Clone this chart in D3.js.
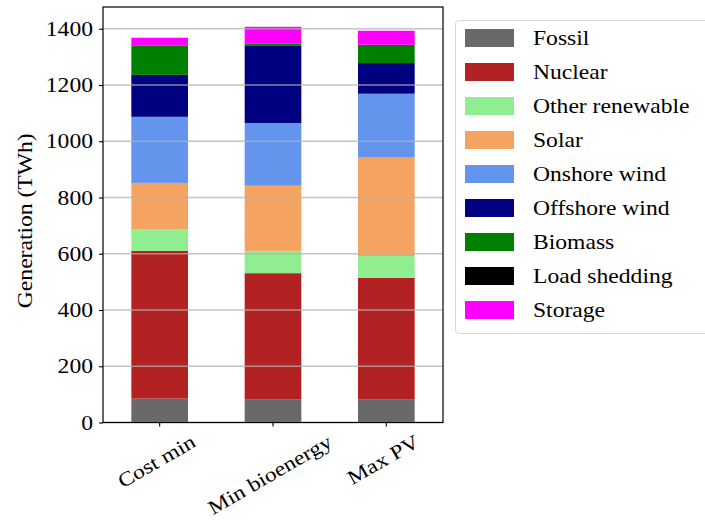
<!DOCTYPE html>
<html>
<head>
<meta charset="utf-8">
<script src="https://cdn.jsdelivr.net/npm/d3@7"></script>
<style>
  html, body { margin: 0; padding: 0; background: #fff; }
  svg text { font-family: "Liberation Serif", "DejaVu Serif", serif; fill: #000; }
</style>
</head>
<body>
<svg id="chart" width="705" height="524"></svg>
<script>
// Scenarios on the x axis
const scenarios = ["Cost min", "Min bioenergy", "Max PV"];

// Generation technologies, bottom to top of each stack
const technologies = ["Fossil", "Nuclear", "Other renewable", "Solar", "Onshore wind",
                      "Offshore wind", "Biomass", "Load shedding", "Storage"];
const colors = ["#696969", "#b22222", "#90ee90", "#f4a460", "#6495ed",
                "#000080", "#008000", "#000000", "#ff00ff"];

// Generation per technology (TWh), one value per scenario
const fossil        = [85, 83, 83];
const nuclear       = [525, 448, 431];
const otherRenew    = [78, 79, 78];
const solar         = [164, 232, 350];
const onshoreWind   = [235, 223, 227];
const offshoreWind  = [149, 276, 109];
const biomass       = [105, 7, 65];
const loadShedding  = [0, 0, 0];
const storage       = [27, 59, 50];

const yTicks = [0, 200, 400, 600, 800, 1000, 1200, 1400];

const seriesValues = [fossil, nuclear, otherRenew, solar, onshoreWind,
                      offshoreWind, biomass, loadShedding, storage];

const rows = scenarios.map((s, i) => {
  const r = { scenario: s };
  technologies.forEach((t, k) => { r[t] = seriesValues[k][i]; });
  return r;
});

const svg = d3.select("#chart");
const plot = { left: 103, right: 443, top: 7, bottom: 422.5 };
const FS = 20;        // font size
const WIDEN = 1.18;   // horizontal stretch of the serif face

// Places a text at (tx, ty), optionally rotated, with a horizontal widening.
function label(parent, str, tx, ty, anchor, rotate) {
  const g = parent.append("g")
    .attr("transform", `translate(${tx},${ty})` + (rotate ? ` rotate(${rotate})` : ""));
  return g.append("text")
    .attr("transform", `scale(${WIDEN},1)`)
    .attr("text-anchor", anchor)
    .style("font-size", FS + "px")
    .text(str);
}

const x = d3.scaleBand().domain(scenarios)
  .range([plot.left, plot.right]).paddingInner(0.5).paddingOuter(0.25);

const totals = rows.map(r => d3.sum(technologies, t => r[t]));
const y = d3.scaleLinear().domain([0, d3.max(totals) * 1.05])
  .range([plot.bottom, plot.top]);

const layers = d3.stack().keys(technologies)(rows);

// Stacked bars
svg.append("g").selectAll("g").data(layers).join("g")
  .attr("fill", (d, i) => colors[i])
  .selectAll("rect").data(d => d).join("rect")
  .attr("x", d => x(d.data.scenario))
  .attr("width", x.bandwidth())
  .attr("y", d => y(d[1]))
  .attr("height", d => Math.max(0, y(d[0]) - y(d[1])));

// Horizontal grid lines on top of the bars
svg.append("g").selectAll("line").data(yTicks).join("line")
  .attr("x1", plot.left).attr("x2", plot.right)
  .attr("y1", d => y(d)).attr("y2", d => y(d))
  .attr("stroke", "#b0b0b0").attr("stroke-opacity", 0.75).attr("stroke-width", 1.3);

// Y axis ticks
const yAxis = svg.append("g")
  .attr("transform", `translate(${plot.left},0)`)
  .call(d3.axisLeft(y).tickValues(yTicks).tickSize(4).tickFormat(""));
yAxis.select(".domain").remove();
yAxis.selectAll(".tick line").attr("stroke", "#000").attr("stroke-width", 1.1);

// Y tick labels
const yLab = svg.append("g");
yTicks.forEach(v => {
  label(yLab, d3.format("d")(v), plot.left - 10, y(v), "end").attr("dy", "0.35em");
});

// X axis ticks
const xAxis = svg.append("g")
  .attr("transform", `translate(0,${plot.bottom})`)
  .call(d3.axisBottom(x).tickSize(4).tickFormat(""));
xAxis.select(".domain").remove();
xAxis.selectAll(".tick line").attr("stroke", "#000").attr("stroke-width", 1.1);

// Rotated x labels, centred under each tick
const labelTop = plot.bottom + 9;
const xLab = svg.append("g");
scenarios.forEach(s => {
  const t = label(xLab, s, 0, 0, "middle", -30).attr("dominant-baseline", "central");
  const w = t.node().getComputedTextLength() * WIDEN;
  const bboxH = w * 0.5 + FS * 0.866;
  const cx = x(s) + x.bandwidth() / 2;
  d3.select(t.node().parentNode)
    .attr("transform", `translate(${cx - 3},${labelTop + bboxH / 2}) rotate(-30)`);
});

// Axes frame
svg.append("rect")
  .attr("x", plot.left).attr("y", plot.top)
  .attr("width", plot.right - plot.left).attr("height", plot.bottom - plot.top)
  .attr("fill", "none").attr("stroke", "#000").attr("stroke-width", 1.2);

// Y axis title
label(svg, "Generation (TWh)", 32, (plot.top + plot.bottom) / 2 + 6, "middle", -90);

// Legend
const legend = svg.append("g").attr("transform", "translate(455,20)");
legend.append("rect")
  .attr("x", 0.5).attr("y", 0.5).attr("width", 262).attr("height", 313)
  .attr("rx", 3).attr("fill", "#fff").attr("stroke", "#d6d6d6").attr("stroke-width", 1);
technologies.forEach((name, i) => {
  const item = legend.append("g").attr("transform", `translate(10,${9 + i * 34})`);
  item.append("rect").attr("width", 49).attr("height", 18).attr("fill", colors[i]);
  label(item, name, 68, 9, "start").attr("dy", "0.35em");
});
</script>
</body>
</html>
